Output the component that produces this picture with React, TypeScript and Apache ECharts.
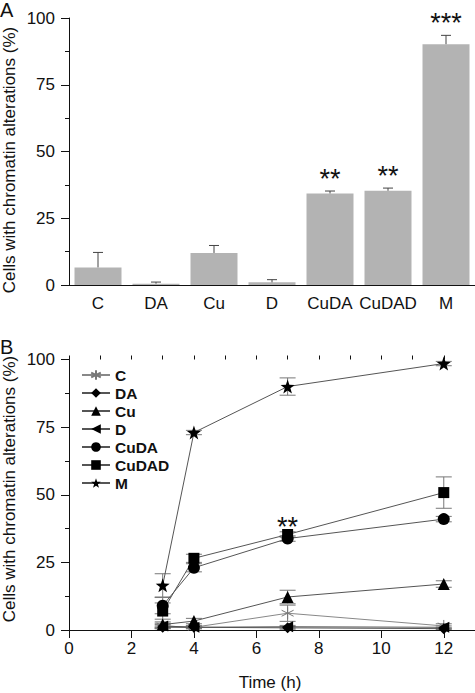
import React, { useEffect, useRef } from "react";
import * as echarts from "echarts";

// ---------- Panel A data ----------
const categoriesA = ["C", "DA", "Cu", "D", "CuDA", "CuDAD", "M"];
const valuesA = [6.6, 0.5, 12.0, 1.0, 34.3, 35.3, 90.2];
const errorsA = [5.6, 0.6, 2.8, 1.0, 0.9, 1.0, 3.3];
const starsA = ["", "", "", "", "**", "**", "***"];
const yTicks = [0, 25, 50, 75, 100];

// ---------- Panel B data ----------
const timesB = [3, 4, 7, 12];
const namesB = ["C", "DA", "Cu", "D", "CuDA", "CuDAD", "M"];
const valC = [1.5, 1.0, 6.2, 1.5];
const errC = [1.0, 0.5, 3.0, 0.8];
const valDA = [1.0, 1.0, 0.8, 0.5];
const errDA = [0.5, 0.5, 0.5, 0.3];
const valCu = [2.0, 3.3, 12.2, 17.0];
const errCu = [1.0, 1.0, 2.5, 1.2];
const valD = [1.5, 1.0, 1.2, 1.0];
const errD = [0.5, 0.5, 0.5, 0.5];
const valCuDA = [9.0, 23.0, 33.8, 41.0];
const errCuDA = [3.0, 1.5, 1.0, 1.0];
const valCuDAD = [7.0, 26.5, 35.3, 50.8];
const errCuDAD = [3.0, 1.5, 1.0, 5.8];
const valM = [16.5, 73.0, 90.0, 98.5];
const errM = [4.3, 0.8, 3.2, 0.8];
const starsB = [{ t: 7, y: 40.2, text: "**" }];
const xTicksB = [0, 2, 4, 6, 8, 10, 12];

const ASTERISK = "path://M0,-10L0,10M-8.66,-5L8.66,5M-8.66,5L8.66,-5";
const STAR =
  "path://M0,-10L2.35,-3.24L9.51,-3.09L3.8,1.24L5.88,8.09L0,4L-5.88,8.09L-3.8,1.24L-9.51,-3.09L-2.35,-3.24Z";

const FONT = "Arial, 'Liberation Sans', sans-serif";

const seriesDefs = [
  { name: "C", vals: valC, errs: errC, symbol: ASTERISK, size: 12, rotate: 0, hollow: true },
  { name: "DA", vals: valDA, errs: errDA, symbol: "diamond", size: 11, rotate: 0, hollow: false },
  { name: "Cu", vals: valCu, errs: errCu, symbol: "triangle", size: 12, rotate: 0, hollow: false },
  { name: "D", vals: valD, errs: errD, symbol: "triangle", size: 11, rotate: 90, hollow: false },
  { name: "CuDA", vals: valCuDA, errs: errCuDA, symbol: "circle", size: 12, rotate: 0, hollow: false },
  { name: "CuDAD", vals: valCuDAD, errs: errCuDAD, symbol: "rect", size: 11, rotate: 0, hollow: false },
  { name: "M", vals: valM, errs: errM, symbol: STAR, size: 14, rotate: 0, hollow: false },
];

export default function App() {
  const ref = useRef<HTMLDivElement>(null);

  useEffect(() => {
    if (!ref.current) return;
    const chart = echarts.init(ref.current, null, { renderer: "svg" });

    const axisLabelStyle = { fontSize: 17, color: "#111", fontFamily: FONT };
    const lineBlack = { color: "#111", width: 1 };

    const errDataA = valuesA.map((v, i) => [i, v, errorsA[i]]);
    const errDataB: any[] = [];
    seriesDefs.forEach((s) => {
      timesB.forEach((t, i) => errDataB.push([t, s.vals[i], s.errs[i]]));
    });

    const lineSeries = seriesDefs.map((s) => ({
      type: "line",
      name: s.name,
      xAxisIndex: 2,
      yAxisIndex: 1,
      data: timesB.map((t, i) => [t, s.vals[i]]),
      symbol: s.symbol,
      symbolSize: s.size,
      symbolRotate: s.rotate,
      showAllSymbol: true,
      lineStyle: { color: s.hollow ? "#888" : "#555", width: 1 },
      itemStyle: s.hollow
        ? { color: "rgba(0,0,0,0)", borderColor: "#777", borderWidth: 1 }
        : { color: "#000", borderColor: "#000", borderWidth: 0 },
      z: 3,
    }));

    const option: any = {
      animation: false,
      textStyle: { fontFamily: FONT },
      grid: [
        { left: 69, top: 18, width: 406, height: 267 },
        { left: 69, top: 359.5, width: 406, height: 270.5 },
      ],
      xAxis: [
        {
          type: "category",
          gridIndex: 0,
          data: categoriesA,
          axisLine: { lineStyle: lineBlack },
          axisTick: { alignWithLabel: true, length: 8, lineStyle: lineBlack },
          axisLabel: { ...axisLabelStyle, margin: 10, interval: 0 },
        },
        {
          type: "category",
          gridIndex: 0,
          data: categoriesA,
          axisLine: { show: false },
          axisTick: { alignWithLabel: false, length: 4, lineStyle: lineBlack },
          axisLabel: { show: false },
        },
        {
          type: "value",
          gridIndex: 1,
          min: 0,
          max: 13,
          interval: 2,
          splitLine: { show: false },
          axisLine: { lineStyle: lineBlack },
          axisTick: { length: 8, lineStyle: lineBlack, customValues: xTicksB },
          axisLabel: {
            ...axisLabelStyle,
            margin: 10,
            customValues: xTicksB,
            formatter: (v: number) => (xTicksB.indexOf(v) >= 0 ? String(v) : ""),
          },
        },
        {
          type: "value",
          gridIndex: 1,
          min: 0,
          max: 13,
          interval: 1,
          splitLine: { show: false },
          axisLine: { show: false },
          axisTick: { length: 4, lineStyle: lineBlack },
          axisLabel: { show: false },
        },
      ],
      yAxis: [0, 1].map((g) => ({
        type: "value",
        gridIndex: g,
        min: 0,
        max: 100,
        interval: 25,
        splitLine: { show: false },
        axisLine: { show: true, lineStyle: lineBlack },
        axisTick: { show: true, length: 8, lineStyle: lineBlack },
        minorTick: { show: true, splitNumber: 2, length: 4, lineStyle: lineBlack },
        axisLabel: {
          ...axisLabelStyle,
          margin: 14,
          formatter: (v: number) => (yTicks.indexOf(v) >= 0 ? String(v) : ""),
        },
      })),
      legend: {
        orient: "vertical",
        left: 76,
        top: 362,
        itemWidth: 28,
        itemHeight: 12,
        itemGap: 2,
        data: namesB,
        textStyle: { fontSize: 15.5, fontWeight: "bold", color: "#111", fontFamily: FONT },
      },
      graphic: [
        {
          type: "text",
          x: 0,
          y: 0,
          style: { text: "A", font: `20px ${FONT}`, fill: "#111", textAlign: "left", textVerticalAlign: "top" },
        },
        {
          type: "text",
          x: 0,
          y: 337,
          style: { text: "B", font: `20px ${FONT}`, fill: "#111", textAlign: "left", textVerticalAlign: "top" },
        },
        {
          type: "text",
          x: 9,
          y: 160,
          rotation: Math.PI / 2,
          style: {
            text: "Cells with chromatin alterations (%)",
            font: `17px ${FONT}`,
            fill: "#111",
            textAlign: "center",
            textVerticalAlign: "middle",
          },
        },
        {
          type: "text",
          x: 9,
          y: 489,
          rotation: Math.PI / 2,
          style: {
            text: "Cells with chromatin alterations (%)",
            font: `17px ${FONT}`,
            fill: "#111",
            textAlign: "center",
            textVerticalAlign: "middle",
          },
        },
        {
          type: "text",
          x: 270,
          y: 682,
          style: {
            text: "Time (h)",
            font: `17px ${FONT}`,
            fill: "#111",
            textAlign: "center",
            textVerticalAlign: "middle",
          },
        },
      ],
      series: [
        {
          type: "bar",
          name: "barsA",
          xAxisIndex: 0,
          yAxisIndex: 0,
          data: valuesA,
          barWidth: 47,
          itemStyle: { color: "#b3b3b3" },
          z: 2,
        },
        {
          type: "custom",
          name: "errA",
          xAxisIndex: 0,
          yAxisIndex: 0,
          data: errDataA,
          z: 3,
          renderItem: (params: any, api: any) => {
            const i = api.value(0);
            const v = api.value(1);
            const e = api.value(2);
            const star = starsA[params.dataIndex];
            const p0 = api.coord([i, v]);
            const p1 = api.coord([i, v + e]);
            const stroke = { stroke: "#444", lineWidth: 1 };
            const children: any[] = [
              { type: "line", shape: { x1: p0[0], y1: p0[1], x2: p1[0], y2: p1[1] }, style: stroke },
              { type: "line", shape: { x1: p1[0] - 5, y1: p1[1], x2: p1[0] + 5, y2: p1[1] }, style: stroke },
            ];
            if (star) {
              children.push({
                type: "text",
                x: p1[0],
                y: p1[1] - 18 + 0.22 * 27,
                style: {
                  text: star,
                  font: `27px ${FONT}`,
                  fill: "#111",
                  textAlign: "center",
                  textVerticalAlign: "middle",
                },
              });
            }
            return { type: "group", children };
          },
        },
        {
          type: "custom",
          name: "errB",
          xAxisIndex: 2,
          yAxisIndex: 1,
          data: errDataB,
          z: 2,
          renderItem: (params: any, api: any) => {
            const t = api.value(0);
            const v = api.value(1);
            const e = api.value(2);
            const pt = api.coord([t, v + e]);
            const pb = api.coord([t, Math.max(0, v - e)]);
            const stroke = { stroke: "#777", lineWidth: 1 };
            return {
              type: "group",
              children: [
                { type: "line", shape: { x1: pt[0], y1: pt[1], x2: pb[0], y2: pb[1] }, style: stroke },
                { type: "line", shape: { x1: pt[0] - 8, y1: pt[1], x2: pt[0] + 8, y2: pt[1] }, style: stroke },
                { type: "line", shape: { x1: pb[0] - 8, y1: pb[1], x2: pb[0] + 8, y2: pb[1] }, style: stroke },
              ],
            };
          },
        },
        {
          type: "custom",
          name: "starsB",
          xAxisIndex: 2,
          yAxisIndex: 1,
          data: starsB.map((s) => [s.t, s.y]),
          z: 4,
          renderItem: (params: any, api: any) => {
            const p = api.coord([api.value(0), api.value(1)]);
            return {
              type: "text",
              x: p[0],
              y: p[1] + 0.22 * 27,
              style: {
                text: starsB[params.dataIndex].text,
                font: `27px ${FONT}`,
                fill: "#111",
                textAlign: "center",
                textVerticalAlign: "middle",
              },
            };
          },
        },
        ...lineSeries,
      ],
    };

    chart.setOption(option);
    return () => chart.dispose();
  }, []);

  return (
    <div
      ref={ref}
      style={{ position: "fixed", left: 0, top: 0, width: 475, height: 693, background: "#fff" }}
    />
  );
}
